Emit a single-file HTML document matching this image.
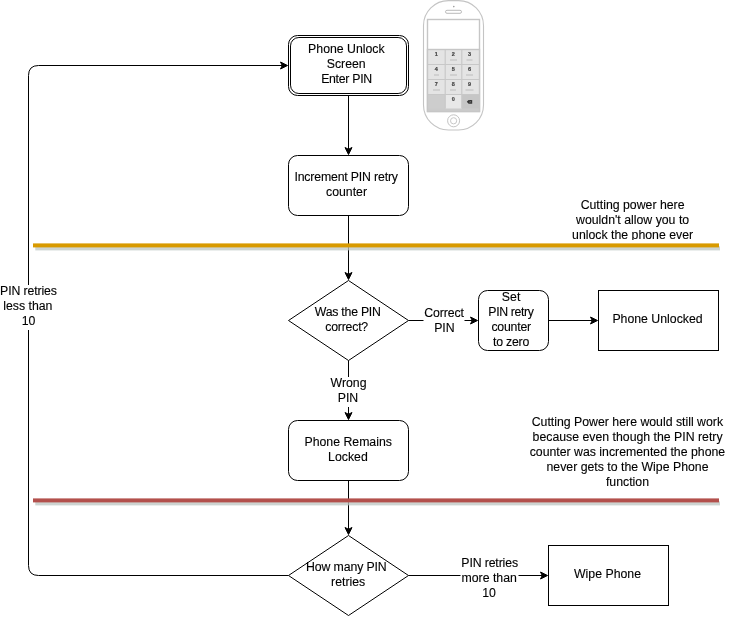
<!DOCTYPE html>
<html><head><meta charset="utf-8">
<style>
html,body{margin:0;padding:0;background:#fff;width:730px;height:619px;overflow:hidden}
svg{position:absolute;left:0;top:0;will-change:transform}
text{font-family:"Liberation Sans",sans-serif;font-size:12.3px;fill:#000;stroke:#000;stroke-width:0.12px}
</style></head>
<body>
<svg width="730" height="619" viewBox="0 0 730 619">
<defs>
<clipPath id="clipTop"><rect x="540" y="190" width="190" height="50"/></clipPath>
</defs>
<g fill="none" stroke="#000" stroke-width="1">
  <!-- box 1 double -->
  <rect x="288.5" y="35.5" width="120" height="60" rx="9" ry="9"/>
  <rect x="290.5" y="37.5" width="116" height="56" rx="8.4" ry="8.4"/>
  <!-- box 2 -->
  <rect x="288.5" y="155.5" width="120" height="60" rx="9" ry="9"/>
  <!-- diamond 1 -->
  <path d="M348.5 280.5 L408.5 320.5 L348.5 360.5 L288.5 320.5 Z"/>
  <!-- set box -->
  <rect x="478.5" y="290.5" width="70" height="60" rx="9" ry="9"/>
  <!-- phone unlocked -->
  <rect x="598.5" y="290.5" width="120" height="60"/>
  <!-- phone remains locked -->
  <rect x="288.5" y="420.5" width="120" height="60" rx="9" ry="9"/>
  <!-- diamond 2 -->
  <path d="M348.5 535.5 L408.5 575.5 L348.5 615.5 L288.5 575.5 Z"/>
  <!-- wipe phone -->
  <rect x="548.5" y="545.5" width="120" height="60"/>

  <!-- edges -->
  <path d="M348.5 95.5 V149"/>
  <path d="M348.5 215.5 V274"/>
  <path d="M408.5 320.5 H423.5 M464.5 320.5 H472"/>
  <path d="M548.5 320.5 H592"/>
  <path d="M348.5 360.5 V377 M348.5 407 V414"/>
  <path d="M348.5 480.5 V529"/>
  <path d="M408.5 575.5 H460.5 M518.5 575.5 H542"/>
  <path d="M288.5 575.5 H38.5 Q28.5 575.5 28.5 565.5 V330 M28.5 285 V75.5 Q28.5 65.5 38.5 65.5 H282"/>
</g>
<g fill="#000" stroke="#000" stroke-width="1" stroke-linejoin="miter">
  <path d="M348.5 154.5 L345 147.5 L348.5 149.25 L352 147.5 Z"/>
  <path d="M348.5 279.5 L345 272.5 L348.5 274.25 L352 272.5 Z"/>
  <path d="M348.5 419.5 L345 412.5 L348.5 414.25 L352 412.5 Z"/>
  <path d="M348.5 534.5 L345 527.5 L348.5 529.25 L352 527.5 Z"/>
  <path d="M477.5 320.5 L470.5 317 L472.25 320.5 L470.5 324 Z"/>
  <path d="M597.5 320.5 L590.5 317 L592.25 320.5 L590.5 324 Z"/>
  <path d="M547.5 575.5 L540.5 572 L542.25 575.5 L540.5 579 Z"/>
  <path d="M287.5 65.5 L280.5 62 L282.25 65.5 L280.5 69 Z"/>
</g>

<!-- separator lines -->
<rect x="35.3" y="246.4" width="684.7" height="4" fill="#bcc6c2" opacity="0.75"/>
<rect x="33" y="243.4" width="686" height="4" fill="#d89a00"/>
<rect x="35.3" y="501.4" width="684.7" height="4" fill="#bcc6c2" opacity="0.75"/>
<rect x="33" y="498.4" width="686" height="4" fill="#b3504c"/>

<!-- texts -->
<g text-anchor="middle">
  <text x="346.40" y="53">Phone Unlock</text>
  <text x="346.20" y="68">Screen</text>
  <text x="346.65" y="83" textLength="51.01" lengthAdjust="spacing">Enter PIN</text>
  <text x="346.20" y="180.5" textLength="103.61" lengthAdjust="spacing">Increment PIN retry</text>
  <text x="346.50" y="195.5">counter</text>
  <text x="347.85" y="315.5" textLength="66.08" lengthAdjust="spacing">Was the PIN</text>
  <text x="346.70" y="330.5" textLength="43.02" lengthAdjust="spacing">correct?</text>
  <text x="444.00" y="316.7" textLength="39.68" lengthAdjust="spacing">Correct</text>
  <text x="444.40" y="331.7">PIN</text>
  <text x="511.10" y="300.8">Set</text>
  <text x="511.10" y="315.5" textLength="45.52" lengthAdjust="spacing">PIN retry</text>
  <text x="511.30" y="330.5" textLength="39.83" lengthAdjust="spacing">counter</text>
  <text x="511.20" y="345.5" textLength="36.19" lengthAdjust="spacing">to zero</text>
  <text x="657.50" y="323">Phone Unlocked</text>
  <text x="348.50" y="387">Wrong</text>
  <text x="348.00" y="402">PIN</text>
  <text x="348.20" y="445.5">Phone Remains</text>
  <text x="347.90" y="460.5">Locked</text>
  <text x="346.40" y="570.5" textLength="80.62" lengthAdjust="spacing">How many PIN</text>
  <text x="348.15" y="585.5">retries</text>
  <text x="489.70" y="566.5" textLength="56.69" lengthAdjust="spacing">PIN retries</text>
  <text x="489.15" y="581.5">more than</text>
  <text x="489.05" y="596.5">10</text>
  <text x="607.50" y="578">Wipe Phone</text>
  <text x="28.50" y="294.5" textLength="56.79" lengthAdjust="spacing">PIN retries</text>
  <text x="27.85" y="309.5">less than</text>
  <text x="28.50" y="324.5">10</text>
  <g clip-path="url(#clipTop)">
  <text x="632.6" y="209">Cutting power here</text>
  <text x="632.6" y="224">wouldn't allow you to</text>
  <text x="632.6" y="239">unlock the phone ever</text>
  </g>
  <text x="627.4" y="425.5">Cutting Power here would still work</text>
  <text x="627.6" y="440.5">because even though the PIN retry</text>
  <text x="627.4" y="455.5">counter was incremented the phone</text>
  <text x="627.5" y="470.5">never gets to the Wipe Phone</text>
  <text x="627.5" y="485.5">function</text>
</g>

<!-- phone -->
<g id="phone">
  <rect x="423.5" y="0.6" width="60" height="129.4" rx="25" ry="25" fill="#fff" stroke="#c4c4c4" stroke-width="1.1"/>
  <rect x="427.5" y="19.5" width="52" height="92" fill="#fff" stroke="#c6c6c6" stroke-width="1.4"/>
  <rect x="427.5" y="49.5" width="52" height="62" fill="#e4e4e4"/>
  <rect x="427.5" y="94.5" width="18" height="17" fill="#cdcdcd"/>
  <rect x="445.5" y="94.5" width="16.5" height="14" fill="#e8e8e8"/>
  <rect x="462" y="94.5" width="17.5" height="17" fill="#c6c6c6"/>
  <rect x="427.5" y="108.5" width="52" height="3" fill="#cbcbcb"/>
  <path d="M445.2 49.5 V108.5 M461.8 49.5 V108.5 M427.5 64.5 H479.5 M427.5 79.5 H479.5 M427.5 94.5 H479.5" stroke="#c8c8c8" stroke-width="1.2" fill="none"/>
  <rect x="427.5" y="49.5" width="52" height="62" fill="none" stroke="#c6c6c6" stroke-width="1.4"/>
  <rect x="445.5" y="10.3" width="16" height="3" rx="1.5" fill="none" stroke="#bbb" stroke-width="1"/>
  <circle cx="453.8" cy="6.6" r="0.8" fill="#999"/>
  <circle cx="453.6" cy="120.8" r="6" fill="none" stroke="#c4c4c4" stroke-width="1"/>
  <circle cx="453.6" cy="120.8" r="3.1" fill="none" stroke="#c8c8c8" stroke-width="1"/>
  <g style="font-weight:bold" fill="#555">
    <text x="436.3" y="56" style="font-size:5.5px;fill:#444;stroke:#444;stroke-width:0.2px" text-anchor="middle">1</text>
    <text x="453.2" y="56" style="font-size:5.5px;fill:#444;stroke:#444;stroke-width:0.2px" text-anchor="middle">2</text>
    <text x="469.6" y="56" style="font-size:5.5px;fill:#444;stroke:#444;stroke-width:0.2px" text-anchor="middle">3</text>
    <text x="436.3" y="71" style="font-size:5.5px;fill:#444;stroke:#444;stroke-width:0.2px" text-anchor="middle">4</text>
    <text x="453.2" y="71" style="font-size:5.5px;fill:#444;stroke:#444;stroke-width:0.2px" text-anchor="middle">5</text>
    <text x="469.6" y="71" style="font-size:5.5px;fill:#444;stroke:#444;stroke-width:0.2px" text-anchor="middle">6</text>
    <text x="436.3" y="86" style="font-size:5.5px;fill:#444;stroke:#444;stroke-width:0.2px" text-anchor="middle">7</text>
    <text x="453.2" y="86" style="font-size:5.5px;fill:#444;stroke:#444;stroke-width:0.2px" text-anchor="middle">8</text>
    <text x="469.6" y="86" style="font-size:5.5px;fill:#444;stroke:#444;stroke-width:0.2px" text-anchor="middle">9</text>
    <text x="453.2" y="101" style="font-size:5.5px;fill:#444;stroke:#444;stroke-width:0.2px" text-anchor="middle">0</text>
  </g>
  <g fill="#bbb">
    <rect x="450" y="59.5" width="7" height="1"/>
    <rect x="466.5" y="59.5" width="6" height="1"/>
    <rect x="434" y="74.5" width="5" height="1"/>
    <rect x="450" y="74.5" width="7" height="1"/>
    <rect x="466" y="74.5" width="7" height="1"/>
    <rect x="433" y="89.5" width="7" height="1"/>
    <rect x="450" y="89.5" width="6" height="1"/>
    <rect x="465.5" y="89.5" width="8" height="1"/>
  </g>
  <path d="M466.8 101.8 L468.6 99.9 H472.2 V103.7 H468.6 Z" fill="#333"/><path d="M469.3 100.9 L471.3 102.7 M471.3 100.9 L469.3 102.7" stroke="#888" stroke-width="0.5"/>
</g>
</svg>
</body></html>
